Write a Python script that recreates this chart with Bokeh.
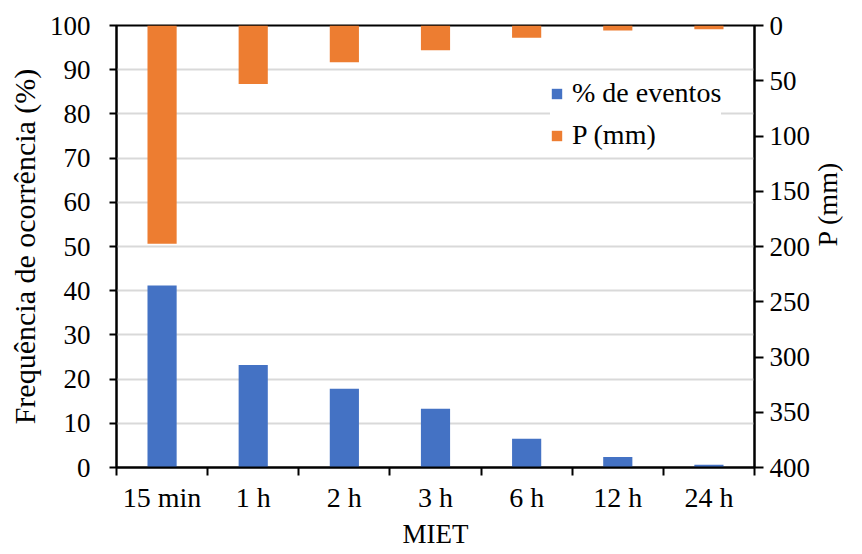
import math
from bokeh.plotting import figure
from bokeh.models import (Range1d, LinearAxis, FixedTicker, Legend, LegendItem,
                          ColumnDataSource)
from bokeh.embed import file_html
from bokeh.resources import INLINE

# ---- data ----
categories = ["15 min", "1 h", "2 h", "3 h", "6 h", "12 h", "24 h"]
pct_eventos = [41.2, 23.2, 17.8, 13.3, 6.5, 2.4, 0.6]
p_mm = [197.5, 53.0, 33.2, 22.3, 11.0, 4.5, 3.3]
left_ticks = [0, 10, 20, 30, 40, 50, 60, 70, 80, 90, 100]
right_ticks = [0, 50, 100, 150, 200, 250, 300, 350, 400]

FONT = "Liberation Serif"
BLUE = "#4472C4"
ORANGE = "#ED7D31"

n = len(categories)
centers = [i + 0.5 for i in range(n)]
bounds = list(range(n + 1))

src = ColumnDataSource(dict(x=centers, pct=pct_eventos, p=p_mm, cat=categories))

W, H = 862, 554
p = figure(width=W, height=H, output_backend="svg", toolbar_location=None,
           x_range=Range1d(0, n), y_range=Range1d(0, 100))
p.extra_y_ranges = {"p": Range1d(400, 0)}
p.min_border_left = 116
p.min_border_right = W - 754
p.min_border_top = 25
p.min_border_bottom = H - 467
p.outline_line_color = "black"
p.outline_line_width = 2
p.background_fill_color = "white"
p.border_fill_color = "white"

# gridlines
p.xgrid.visible = False
p.ygrid.grid_line_color = "#d9d9d9"
p.ygrid.grid_line_width = 2
p.yaxis.ticker = FixedTicker(ticks=left_ticks)

# bars
r_blue = p.vbar(x="x", top="pct", bottom=0, width=0.32, source=src,
                fill_color=BLUE, line_color=None)
r_orange = p.vbar(x="x", top=0, bottom="p", width=0.32, source=src,
                  fill_color=ORANGE, line_color=None, y_range_name="p")

# left axis
ya = p.yaxis[0]
ya.axis_label = "Frequência de ocorrência (%)"
ya.axis_label_text_font = FONT
ya.axis_label_text_font_style = "normal"
ya.axis_label_text_font_size = "30px"
ya.axis_label_text_color = "black"
ya.axis_label_standoff = 6
ya.major_label_text_font = FONT
ya.major_label_text_font_size = "27px"
ya.major_label_text_color = "black"
ya.major_label_standoff = 19
ya.axis_line_color = "black"
ya.axis_line_width = 2
ya.major_tick_line_color = "black"
ya.major_tick_line_width = 2
ya.major_tick_out = 7
ya.major_tick_in = 0
ya.minor_tick_line_color = None

# right axis
ra = LinearAxis(y_range_name="p", ticker=FixedTicker(ticks=right_ticks))
ra.axis_label = "P (mm)"
ra.axis_label_orientation = math.pi / 2
ra.axis_label_text_font = FONT
ra.axis_label_text_font_style = "normal"
ra.axis_label_text_font_size = "28px"
ra.axis_label_text_color = "black"
ra.axis_label_standoff = 14
ra.major_label_text_font = FONT
ra.major_label_text_font_size = "27px"
ra.major_label_text_color = "black"
ra.major_label_standoff = 6
ra.axis_line_color = "black"
ra.axis_line_width = 2
ra.major_tick_line_color = "black"
ra.major_tick_line_width = 2
ra.major_tick_out = 9
ra.major_tick_in = 0
ra.minor_tick_line_color = None
p.add_layout(ra, "right")

# bottom axis: labels at centers, ticks at boundaries
xa = p.xaxis[0]
xa.ticker = FixedTicker(ticks=centers, minor_ticks=bounds)
xa.major_label_overrides = {c: lab for c, lab in zip(centers, categories)}
xa.axis_label = "MIET"
xa.axis_label_text_font = FONT
xa.axis_label_text_font_style = "normal"
xa.axis_label_text_font_size = "27px"
xa.axis_label_text_color = "black"
xa.axis_label_standoff = 3
xa.major_label_text_font = FONT
xa.major_label_text_font_size = "28px"
xa.major_label_text_color = "black"
xa.major_label_standoff = 6
xa.axis_line_color = "black"
xa.axis_line_width = 2
xa.major_tick_line_color = None
xa.major_tick_out = 0
xa.major_tick_in = 0
xa.minor_tick_line_color = "black"
xa.minor_tick_line_width = 2
xa.minor_tick_out = 8
xa.minor_tick_in = 0

legend = Legend(items=[LegendItem(label="% de eventos", renderers=[r_blue]),
                       LegendItem(label="P (mm)", renderers=[r_orange])],
                location=(434, 316))
legend.label_text_font = FONT
legend.label_text_font_size = "28px"
legend.label_text_color = "black"
legend.glyph_width = 13
legend.glyph_height = 13
legend.label_standoff = 9
legend.spacing = 10
legend.padding = 5
legend.border_line_color = None
legend.background_fill_color = "white"
legend.background_fill_alpha = 1.0
p.add_layout(legend, "center")

open("out.html", "w").write(file_html(p, INLINE))
